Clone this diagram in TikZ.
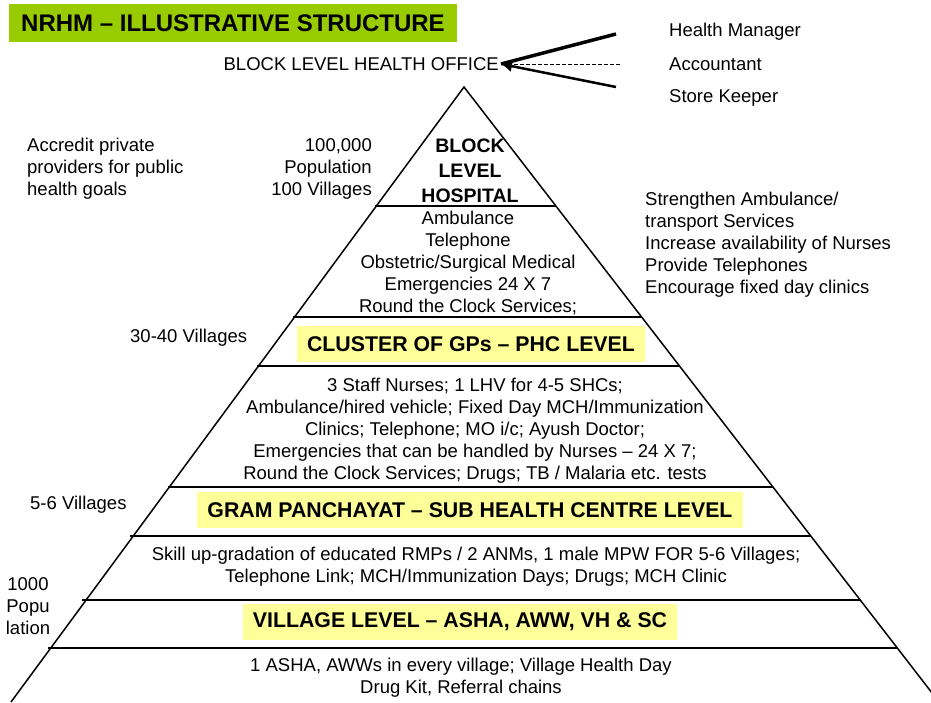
\documentclass[tikz,border=0pt]{standalone}
\usepackage{fontspec}
\setmainfont{Liberation Sans}
\usetikzlibrary{arrows.meta}

\definecolor{titlegreen}{RGB}{153,204,0}
\definecolor{tieryellow}{RGB}{255,255,153}
\newcommand{\bodysize}{\fontsize{18.5}{22}\selectfont}
\newcommand{\headsize}{\fontsize{21.3}{25}\selectfont\bfseries}

\tikzset{
  side/.style={line width=1.5pt},
  tier/.style={line width=2.6pt},
  txt/.style={font=\bodysize, align=center, inner sep=0pt},
  lvl/.style={fill=tieryellow, font=\headsize, inner xsep=10pt, minimum height=36pt},
}

\begin{document}
\begin{tikzpicture}[x=1pt,y=-1pt]
    \useasboundingbox (0,0) rectangle (931,702);
    \clip (0,0) rectangle (931,702);

    % title bar
    \node[fill=titlegreen, font=\fontsize{24}{28}\selectfont\bfseries, inner xsep=12pt, minimum height=38pt] (title) at (233,23) {NRHM – ILLUSTRATIVE STRUCTURE};

    % pyramid outline and tiers
    \draw[side] (11,702) -- (464,87) -- (939,702);
    \draw[tier] (375,206) -- (556,206);
    \draw[tier] (293,317) -- (642,317);
    \draw[tier] (257,366) -- (680,366);
    \draw[tier] (168,487) -- (773,487);
    \draw[tier] (130,536) -- (811,536);
    \draw[tier] (82,600) -- (860,600);
    \draw[tier] (48,648) -- (898,648);

    % block office and its staff
    \node[txt, anchor=east, inner sep=2pt] (office) at (501,64) {BLOCK LEVEL HEALTH OFFICE};
    \node[txt, anchor=west] (manager) at (669,32) {Health Manager};
    \node[txt, anchor=west] (accountant) at (669,64) {Accountant};
    \node[txt, anchor=west] (keeper) at (669,98) {Store Keeper};
    \coordinate (managerend) at (616,34);
    \coordinate (accountantend) at (620,64);
    \coordinate (keeperend) at (616,87);
    \draw[line width=3.5pt] (managerend) -- (office.east);
    \draw[dash pattern=on 4pt off 2pt, line width=1pt] (accountantend) -- (office.east);
    \draw[line width=2.5pt, -{Latex[length=11pt,width=12pt]}] (keeperend) -- (office.east);

    % block level
    \node[txt, font=\fontsize{19.5}{25}\selectfont\bfseries] (hospital) at (470,171) {BLOCK\\LEVEL\\HOSPITAL};
    \node[txt] (blockpop) at (372,169) [anchor=east, align=right] {100,000\\Population\\100 Villages};
    \node[txt, anchor=west, align=left] (accredit) at (27,169) {Accredit private\\providers for public\\health goals};
    \node[txt, anchor=west, align=left] (strengthen) at (645,245) {Strengthen Ambulance/\\transport Services\\Increase availability of Nurses\\Provide Telephones\\Encourage fixed day clinics};
    \node[txt] (blocksrv) at (468,263) {Ambulance\\Telephone\\Obstetric/Surgical Medical\\Emergencies 24 X 7\\Round the Clock Services;};

    % PHC level
    \node[txt, anchor=west] (phcpop) at (130,338) {30-40 Villages};
    \node[lvl] (phc) at (471,344) {CLUSTER OF GPs – PHC LEVEL};
    \node[txt] (phcsrv) at (475,431) {3 Staff Nurses; 1 LHV for 4-5 SHCs;\\Ambulance/hired vehicle; Fixed Day MCH/Immunization\\Clinics; Telephone; MO i/c; Ayush Doctor;\\Emergencies that can be handled by Nurses – 24 X 7;\\Round the Clock Services; Drugs; TB / Malaria etc. tests};

    % sub health centre level
    \node[txt, anchor=west] (shcpop) at (30,505) {5-6 Villages};
    \node[lvl] (shc) at (470,510) {GRAM PANCHAYAT – SUB HEALTH CENTRE LEVEL};
    \node[txt] (shcsrv) at (476,567) {Skill up-gradation of educated RMPs / 2 ANMs, 1 male MPW FOR 5-6 Villages;\\Telephone Link; MCH/Immunization Days; Drugs; MCH Clinic};

    % village level
    \node[txt] (vilpop) at (28,606) {1000\\Popu\\lation};
    \node[lvl] (village) at (460,622) {VILLAGE LEVEL – ASHA, AWW, VH \& SC};
    \node[txt] (vilsrv) at (461,678) {1 ASHA, AWWs in every village; Village Health Day\\Drug Kit, Referral chains};
\end{tikzpicture}
\end{document}
